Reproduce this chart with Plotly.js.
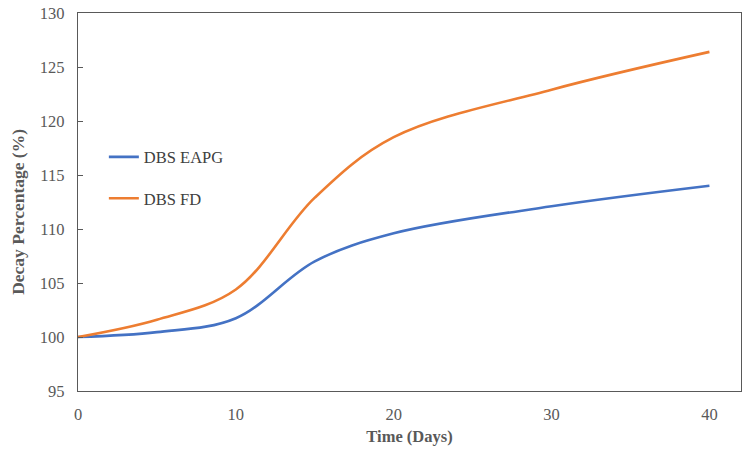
<!DOCTYPE html>
<html>
<head>
<meta charset="utf-8">
<script src="https://cdn.plot.ly/plotly-3.0.1.min.js"></script>
<style>
  html, body { margin: 0; padding: 0; background: #fff; }
  #chart { width: 747px; height: 451px; }
</style>
</head>
<body>
<div id="chart"></div>
<script>
// values
var days = [0, 5, 10, 15, 20, 30, 40]
var eapg = [100, 100.45, 101.74, 107.0, 109.6, 112.1, 114.0]
var fd   = [100, 101.6, 104.4, 112.9, 118.5, 122.9, 126.4]
var xTicks = [0, 10, 20, 30, 40]
var yTicks = [95, 100, 105, 110, 115, 120, 125, 130]
var seriesNames = ['DBS EAPG', 'DBS FD']

var serif = "'Liberation Serif', 'DejaVu Serif', serif"
var axisColor = '#595959'

var traces = [
  {
    x: days, y: eapg, name: seriesNames[0], legendgroup: 'a',
    type: 'scatter', mode: 'lines',
    line: {color: '#4472C4', width: 2.6, shape: 'spline', smoothing: 1}
  },
  {
    x: days, y: fd, name: seriesNames[1], legendgroup: 'b',
    type: 'scatter', mode: 'lines',
    line: {color: '#ED7D31', width: 2.6, shape: 'spline', smoothing: 1}
  }
]

var layout = {
  width: 747,
  height: 451,
  margin: {l: 78, r: 6, t: 13, b: 60},
  paper_bgcolor: '#fff',
  plot_bgcolor: '#fff',
  font: {family: serif, color: axisColor, size: 16},
  showlegend: true,
  legend: {
    x: 0.039, y: 0.665, xanchor: 'left', yanchor: 'top',
    bgcolor: 'rgba(0,0,0,0)',
    font: {family: serif, size: 16.5, color: '#404040'},
    itemwidth: 30,
    tracegroupgap: 17
  },
  xaxis: {
    range: [0, 42],
    tickvals: xTicks,
    ticks: '',
    ticklabelstandoff: 8,
    showgrid: false,
    zeroline: false,
    showline: true, mirror: true,
    linecolor: axisColor, linewidth: 1.3,
    tickfont: {family: serif, size: 16.5, color: axisColor},
    title: {text: '<b>Time (Days)</b>', font: {family: serif, size: 16.5, color: axisColor}, standoff: 7}
  },
  yaxis: {
    range: [95, 130],
    tickvals: yTicks,
    ticks: 'inside', ticklen: 5, tickcolor: axisColor,
    ticklabelstandoff: 9,
    showgrid: false,
    zeroline: false,
    showline: true, mirror: true,
    linecolor: axisColor, linewidth: 1.3,
    tickfont: {family: serif, size: 16.5, color: axisColor}
  },
  annotations: [{
    text: '<b>Decay Percentage (%)</b>',
    xref: 'paper', yref: 'paper',
    x: 0, y: 0.474, xanchor: 'center', yanchor: 'middle',
    xshift: -60, textangle: -90, showarrow: false,
    font: {family: serif, size: 17.5, color: axisColor}
  }]
}

Plotly.newPlot('chart', traces, layout, {displayModeBar: false, staticPlot: true})
</script>
</body>
</html>
